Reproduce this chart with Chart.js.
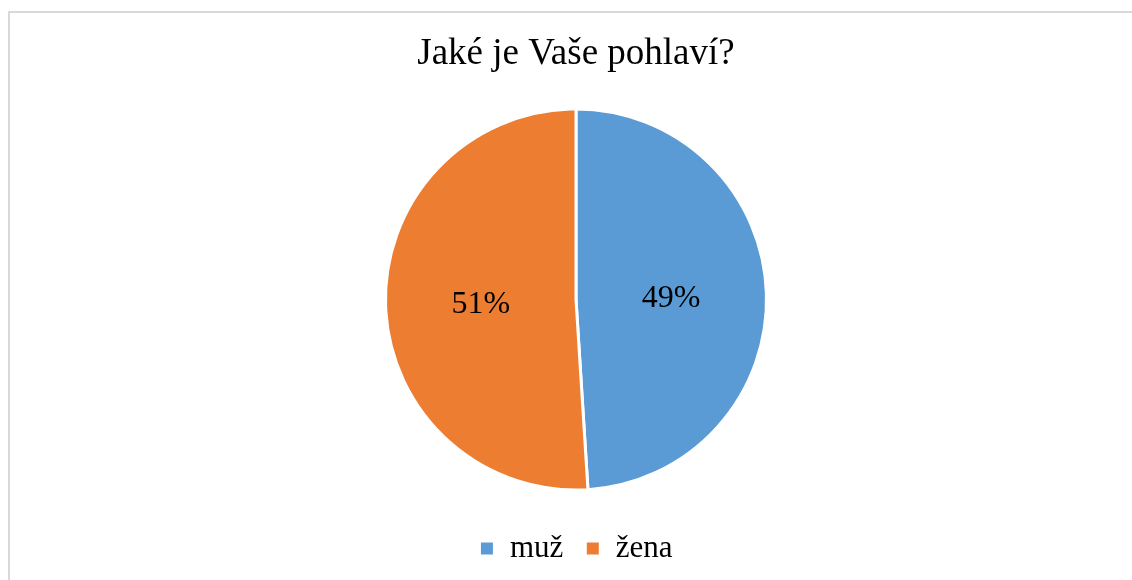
<!DOCTYPE html>
<html>
<head>
<meta charset="utf-8">
<script src="https://cdn.jsdelivr.net/npm/chart.js@4/dist/chart.umd.min.js"></script>
<style>
  html, body { margin: 0; padding: 0; background: #fff; overflow: hidden; }
  #wrap { position: relative; width: 1132px; height: 580px; }
  #ramecek { position: absolute; left: 8px; top: 11px; width: 1200px; height: 700px;
             border: 2px solid #d9d9d9; box-sizing: border-box; }
  canvas { position: absolute; left: 0; top: 0; }
</style>
</head>
<body>
<div id="wrap">
  <div id="ramecek"></div>
  <canvas id="graf" width="1132" height="580"></canvas>
</div>
<script>
// Data grafu
const kategorie = ['muž', 'žena'];
const hodnoty = [49, 51];
const barvy = ['#5B9BD5', '#ED7D31'];
const nadpis = 'Jaké je Vaše pohlaví?';

const pismo = "'Liberation Serif', 'Times New Roman', serif";

// Popisky s procenty uprostřed výsečí
const popiskyProcent = {
    id: 'popiskyProcent',
    afterDatasetsDraw(chart) {
        const ctx = chart.ctx;
        const meta = chart.getDatasetMeta(0);
        const soucet = hodnoty.reduce((a, b) => a + b, 0);
        ctx.save();
        ctx.font = '32px ' + pismo;
        ctx.fillStyle = '#000';
        ctx.textAlign = 'center';
        ctx.textBaseline = 'middle';
        meta.data.forEach((oblouk, i) => {
            const pos = oblouk.tooltipPosition();
            const proc = Math.round(hodnoty[i] / soucet * 100) + '%';
            ctx.fillText(proc, pos.x, pos.y + 2);
        });
        ctx.restore();
    }
};

new Chart(document.getElementById('graf').getContext('2d'), {
    type: 'pie',
    data: {
        labels: kategorie,
        datasets: [{
            data: hodnoty,
            backgroundColor: barvy,
            borderColor: '#ffffff',
            borderWidth: 3,
            radius: 190.5
        }]
    },
    options: {
        responsive: false,
        animation: false,
        layout: { padding: { left: 20, right: 0, top: 0, bottom: 6 } },
        plugins: {
            title: {
                display: true,
                text: nadpis,
                color: '#000',
                font: { family: pismo, size: 37, weight: 'normal' },
                padding: { top: 32, bottom: 11.6 }
            },
            legend: {
                position: 'bottom',
                labels: {
                    color: '#000',
                    font: { family: pismo, size: 31 },
                    boxWidth: 15,
                    boxHeight: 15,
                    padding: 22
                }
            },
            tooltip: { enabled: false }
        }
    },
    plugins: [popiskyProcent]
});
</script>
</body>
</html>
